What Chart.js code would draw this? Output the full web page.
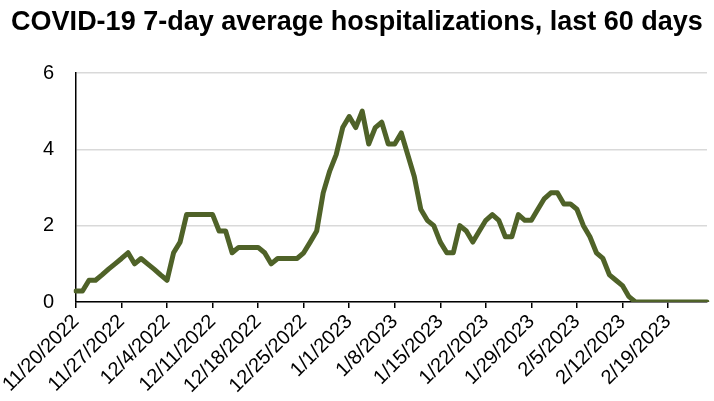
<!DOCTYPE html>
<html>
<head>
<meta charset="utf-8">
<script src="https://cdn.jsdelivr.net/npm/chart.js@4/dist/chart.umd.min.js"></script>
<style>
  html, body { margin: 0; padding: 0; background: #fff; }
  #wrap { width: 714px; height: 401px; position: relative; }
</style>
</head>
<body>
<div id="wrap"><canvas id="c" width="714" height="401"></canvas></div>
<script>
const titleText = 'COVID-19 7-day average hospitalizations, last 60 days';

const dates = [
  '11/20/2022','11/21/2022','11/22/2022','11/23/2022','11/24/2022','11/25/2022','11/26/2022',
  '11/27/2022','11/28/2022','11/29/2022','11/30/2022','12/1/2022','12/2/2022','12/3/2022',
  '12/4/2022','12/5/2022','12/6/2022','12/7/2022','12/8/2022','12/9/2022','12/10/2022',
  '12/11/2022','12/12/2022','12/13/2022','12/14/2022','12/15/2022','12/16/2022','12/17/2022',
  '12/18/2022','12/19/2022','12/20/2022','12/21/2022','12/22/2022','12/23/2022','12/24/2022',
  '12/25/2022','12/26/2022','12/27/2022','12/28/2022','12/29/2022','12/30/2022','12/31/2022',
  '1/1/2023','1/2/2023','1/3/2023','1/4/2023','1/5/2023','1/6/2023','1/7/2023',
  '1/8/2023','1/9/2023','1/10/2023','1/11/2023','1/12/2023','1/13/2023','1/14/2023',
  '1/15/2023','1/16/2023','1/17/2023','1/18/2023','1/19/2023','1/20/2023','1/21/2023',
  '1/22/2023','1/23/2023','1/24/2023','1/25/2023','1/26/2023','1/27/2023','1/28/2023',
  '1/29/2023','1/30/2023','1/31/2023','2/1/2023','2/2/2023','2/3/2023','2/4/2023',
  '2/5/2023','2/6/2023','2/7/2023','2/8/2023','2/9/2023','2/10/2023','2/11/2023',
  '2/12/2023','2/13/2023','2/14/2023','2/15/2023','2/16/2023','2/17/2023','2/18/2023',
  '2/19/2023','2/20/2023','2/21/2023','2/22/2023','2/23/2023','2/24/2023','2/25/2023'
];

const hospitalizations = [
  0.29, 0.29, 0.57, 0.57, 0.71, 0.86, 1.00,
  1.14, 1.29, 1.00, 1.14, 1.00, 0.86, 0.71,
  0.57, 1.29, 1.57, 2.29, 2.29, 2.29, 2.29,
  2.29, 1.86, 1.86, 1.29, 1.43, 1.43, 1.43,
  1.43, 1.29, 1.00, 1.14, 1.14, 1.14, 1.14,
  1.29, 1.57, 1.86, 2.86, 3.43, 3.86, 4.57,
  4.86, 4.57, 5.00, 4.14, 4.57, 4.71, 4.14,
  4.14, 4.43, 3.86, 3.29, 2.43, 2.14, 2.00,
  1.57, 1.29, 1.29, 2.00, 1.86, 1.57, 1.86,
  2.14, 2.29, 2.14, 1.71, 1.71, 2.29, 2.14,
  2.14, 2.43, 2.71, 2.86, 2.86, 2.57, 2.57,
  2.43, 2.00, 1.71, 1.29, 1.14, 0.71, 0.57,
  0.43, 0.14, 0, 0, 0, 0, 0,
  0, 0, 0, 0, 0, 0, 0
];

const yTicks = [0, 2, 4, 6];
const xTickEvery = 7;

new Chart(document.getElementById('c'), {
  type: 'line',
  data: {
    labels: dates,
    datasets: [{
      label: 'Hospitalizations',
      data: hospitalizations,
      borderColor: '#4F6228',
      borderWidth: 5,
      pointRadius: 0,
      borderJoinStyle: 'round',
      borderCapStyle: 'round',
      tension: 0,
      fill: false
    }]
  },
  options: {
    responsive: false,
    animation: false,
    devicePixelRatio: 1,
    layout: { padding: { left: 7, right: 7, top: 0, bottom: 0 } },
    plugins: {
      legend: { display: false },
      tooltip: { enabled: false },
      title: {
        display: true,
        text: titleText,
        color: '#000',
        font: { family: 'Liberation Sans, Arial, sans-serif', size: 27, weight: 'bold', lineHeight: 1.2 },
        padding: { top: 6, bottom: 34.6 }
      }
    },
    scales: {
      x: {
        type: 'category',
        offset: false,
        border: { display: true, color: '#000', width: 1.5 },
        grid: { display: true, drawOnChartArea: false, drawTicks: true, tickLength: 6, color: '#000', lineWidth: 1.5 },
        ticks: {
          autoSkip: false,
          minRotation: 45,
          maxRotation: 45,
          padding: 2,
          color: '#000',
          font: { family: 'Liberation Sans, Arial, sans-serif', size: 20 }
        },
        afterBuildTicks: s => { s.ticks = s.ticks.filter(t => t.value % xTickEvery === 0); },
        afterFit: s => { s.paddingLeft = 0; s.paddingRight = 0; s.height = 99; }
      },
      y: {
        min: yTicks[0],
        max: yTicks[yTicks.length - 1],
        border: { display: true, color: '#000', width: 1.5 },
        grid: { color: '#d9d9d9', lineWidth: 1.5, drawTicks: false },
        ticks: {
          stepSize: 2,
          padding: 22,
          color: '#000',
          font: { family: 'Liberation Sans, Arial, sans-serif', size: 20 }
        },
        afterBuildTicks: s => { s.ticks = yTicks.map(v => ({ value: v })); },
        afterFit: s => { s.width = 69; }
      }
    }
  }
});
</script>
</body>
</html>
